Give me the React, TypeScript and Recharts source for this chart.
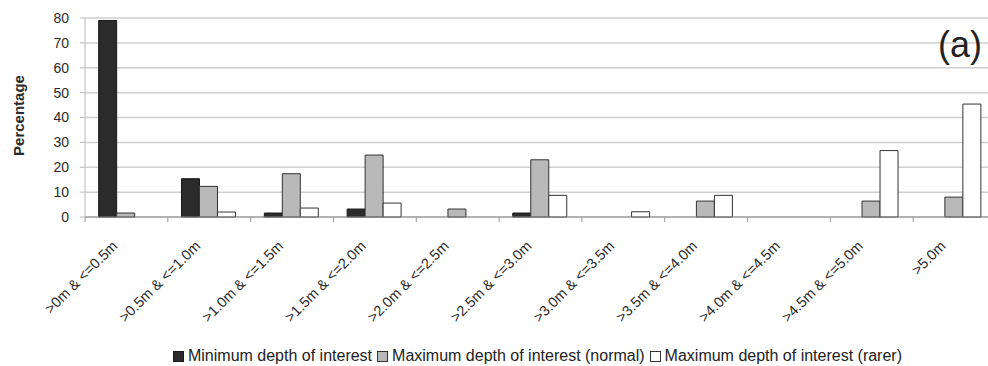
import { BarChart, Bar, XAxis, YAxis, CartesianGrid, Legend } from 'recharts'

const categories = [
  '>0m & <=0.5m',
  '>0.5m & <=1.0m',
  '>1.0m & <=1.5m',
  '>1.5m & <=2.0m',
  '>2.0m & <=2.5m',
  '>2.5m & <=3.0m',
  '>3.0m & <=3.5m',
  '>3.5m & <=4.0m',
  '>4.0m & <=4.5m',
  '>4.5m & <=5.0m',
  '>5.0m',
]
const minDepth = [79, 15.4, 1.6, 3.2, 0, 1.6, 0, 0, 0, 0, 0]
const maxNormal = [1.6, 12.3, 17.4, 24.9, 3.2, 23, 0, 6.4, 0, 6.4, 8]
const maxRarer = [0, 2, 3.6, 5.6, 0, 8.7, 2.1, 8.7, 0, 26.7, 45.4]
const yTicks = [0, 10, 20, 30, 40, 50, 60, 70, 80]

const series = [
  { key: 'min', name: 'Minimum depth of interest', fill: '#2b2b2b', stroke: '#1a1a1a' },
  { key: 'normal', name: 'Maximum depth of interest (normal)', fill: '#b9b9b9', stroke: '#333' },
  { key: 'rarer', name: 'Maximum depth of interest (rarer)', fill: '#ffffff', stroke: '#333' },
]

const data = categories.map((name, i) => ({
  name,
  min: minDepth[i],
  normal: maxNormal[i],
  rarer: maxRarer[i],
}))

const FONT = '"Liberation Sans", Arial, sans-serif'
// the plot runs a little past the right edge of the window, as in the source
const CHART_W = 1000
const CHART_H = 366
const Y_W = 85
const M_RIGHT = 4
const bandW = (CHART_W - Y_W - M_RIGHT) / categories.length

// category label, slanted, plus a small tick on the left boundary of the band
function XTick(props: any) {
  const { x, y, payload } = props
  const ax = x - 8
  const ay = y + 30
  return (
    <g>
      <line x1={x - bandW / 2} x2={x - bandW / 2} y1={y} y2={y + 5} stroke="#999" />
      <text
        x={ax}
        y={ay}
        textAnchor="end"
        transform={`rotate(-45 ${ax} ${ay})`}
        fontSize={14.5}
        fontFamily={FONT}
        fill="#2a2a2a"
      >
        {payload.value}
      </text>
    </g>
  )
}

function YLabel(props: any) {
  const { viewBox } = props
  const x = viewBox.x + 18
  const y = viewBox.y + viewBox.height / 2 - 2
  return (
    <text
      x={x}
      y={y}
      textAnchor="middle"
      dominantBaseline="central"
      transform={`rotate(-90 ${x} ${y})`}
      fontSize={15}
      fontWeight="bold"
      fontFamily={FONT}
      fill="#2a2a2a"
    >
      Percentage
    </text>
  )
}

function LegendBox() {
  return (
    <div
      style={{
        width: CHART_W,
        paddingLeft: 80,
        boxSizing: 'border-box',
        display: 'flex',
        justifyContent: 'center',
        alignItems: 'center',
        height: 20,
        fontFamily: FONT,
        fontSize: 16,
        color: '#222',
        whiteSpace: 'nowrap',
      }}
    >
      {series.map(s => (
        <span key={s.key} style={{ display: 'inline-flex', alignItems: 'center', marginRight: 5 }}>
          <span
            style={{
              display: 'inline-block',
              width: 9,
              height: 9,
              background: s.fill,
              border: `1px solid ${s.stroke}`,
              marginRight: 4,
            }}
          />
          {s.name}
        </span>
      ))}
    </div>
  )
}

export default function App() {
  return (
    <div
      style={{
        position: 'fixed',
        top: 0,
        left: 0,
        width: 988,
        height: CHART_H,
        overflow: 'hidden',
        background: '#fff',
      }}
    >
      <BarChart
        width={CHART_W}
        height={CHART_H}
        data={data}
        margin={{ top: 18, right: M_RIGHT, bottom: 0, left: 0 }}
        barCategoryGap="16.5%"
        barGap={0}
      >
        <CartesianGrid vertical={false} stroke="#cfcfcf" strokeWidth={1.5} />
        <XAxis
          dataKey="name"
          height={129}
          interval={0}
          tick={<XTick />}
          tickLine={false}
          tickSize={0}
          tickMargin={0}
          axisLine={{ stroke: '#888' }}
        />
        <YAxis
          width={Y_W}
          domain={[0, 80]}
          ticks={yTicks}
          interval={0}
          tickSize={5}
          tickMargin={11}
          axisLine={{ stroke: '#bbb' }}
          tickLine={{ stroke: '#bbb' }}
          tick={{ fontSize: 14, fill: '#2a2a2a', fontFamily: FONT }}
          label={<YLabel />}
        />
        <Legend
          verticalAlign="bottom"
          content={<LegendBox />}
          wrapperStyle={{ left: 0, bottom: 0, width: CHART_W }}
        />
        {series.map(s => (
          <Bar
            key={s.key}
            dataKey={s.key}
            name={s.name}
            fill={s.fill}
            stroke={s.stroke}
            strokeWidth={1}
            isAnimationActive={false}
          />
        ))}
      </BarChart>
      <div
        style={{
          position: 'absolute',
          top: 24,
          right: 6,
          fontFamily: FONT,
          fontSize: 36,
          color: '#222',
          lineHeight: 'normal',
        }}
      >
        (a)
      </div>
    </div>
  )
}
